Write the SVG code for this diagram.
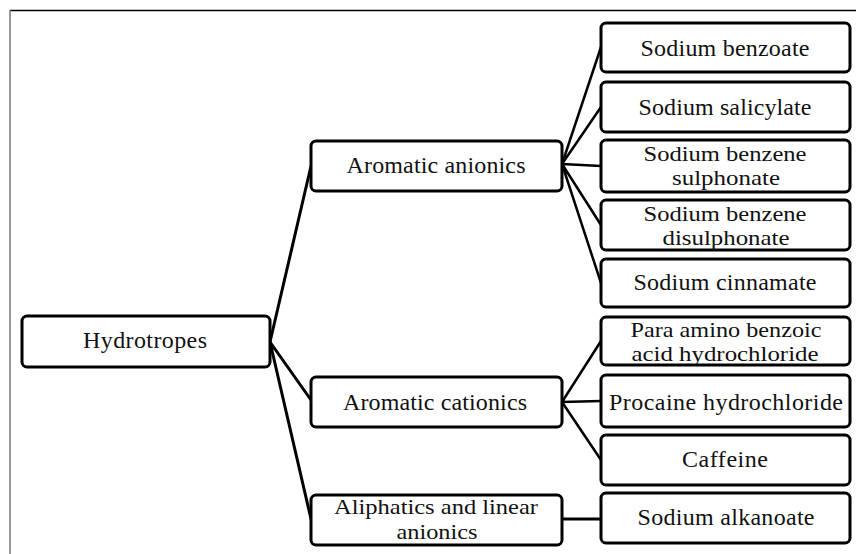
<svg xmlns="http://www.w3.org/2000/svg" width="856" height="554" viewBox="0 0 856 554">
<style>
.box{fill:#fff;stroke:#000;stroke-width:3}
.t{font-family:"Liberation Serif","Times New Roman",Times,serif;font-size:24px;fill:#111;text-anchor:middle}
.t2{font-size:22px}
.c{stroke:#000;fill:none;stroke-linecap:round}
.c3{stroke-width:3}
.c2{stroke-width:2.5}
</style>
<rect width="856" height="554" fill="#fff"/>
<line x1="10" y1="10.5" x2="856" y2="10.5" stroke="#000" stroke-width="1.5"/>
<line x1="10" y1="10" x2="10" y2="554" stroke="#777" stroke-width="1.5"/>
<g id="connectors">
<path class="c c3" d="M270 342 L311 166 M270 342 L311 400 M270 342 L311 519"/>
<path class="c c2" d="M562 164 L601 47 M562 164 L601 107 M562 164 L601 166 M562 164 L601 225 M562 164 L601 283"/>
<path class="c c2" d="M562 402 L601 341 M562 402 L601 401 M562 402 L601 460"/>
<path class="c c3" d="M562 519 L601 519"/>
</g>
<g id="hydrotropes"><rect class="box" x="22" y="316" width="248" height="51" rx="5"/><text class="t" x="145" y="348" textLength="124" lengthAdjust="spacing">Hydrotropes</text></g>
<g id="aromatic-anionics"><rect class="box" x="311" y="141" width="251" height="50" rx="5"/><text class="t" x="436" y="173" textLength="179" lengthAdjust="spacing">Aromatic anionics</text></g>
<g id="aromatic-cationics"><rect class="box" x="311" y="377" width="251" height="50" rx="5"/><text class="t" x="435" y="410" textLength="184" lengthAdjust="spacing">Aromatic cationics</text></g>
<g id="aliphatics"><rect class="box" x="311" y="495" width="251" height="50" rx="5"/><text class="t t2" x="436" y="514" textLength="204" lengthAdjust="spacingAndGlyphs">Aliphatics and linear</text><text class="t t2" x="437" y="539" textLength="81" lengthAdjust="spacingAndGlyphs">anionics</text></g>
<g id="sodium-benzoate"><rect class="box" x="601" y="23" width="249" height="49" rx="5"/><text class="t" x="725" y="56" textLength="169" lengthAdjust="spacing">Sodium benzoate</text></g>
<g id="sodium-salicylate"><rect class="box" x="601" y="82" width="249" height="50" rx="5"/><text class="t" x="725" y="115" textLength="173" lengthAdjust="spacing">Sodium salicylate</text></g>
<g id="sodium-benzene-sulphonate"><rect class="box" x="601" y="140" width="249" height="52" rx="5"/><text class="t t2" x="725" y="161" textLength="163" lengthAdjust="spacingAndGlyphs">Sodium benzene</text><text class="t t2" x="726" y="185" textLength="108" lengthAdjust="spacingAndGlyphs">sulphonate</text></g>
<g id="sodium-benzene-disulphonate"><rect class="box" x="601" y="200" width="249" height="50" rx="5"/><text class="t t2" x="725" y="221" textLength="163" lengthAdjust="spacingAndGlyphs">Sodium benzene</text><text class="t t2" x="726" y="245" textLength="127" lengthAdjust="spacingAndGlyphs">disulphonate</text></g>
<g id="sodium-cinnamate"><rect class="box" x="601" y="259" width="249" height="48" rx="5"/><text class="t" x="725" y="290" textLength="183" lengthAdjust="spacing">Sodium cinnamate</text></g>
<g id="para-amino"><rect class="box" x="601" y="317" width="249" height="48" rx="5"/><text class="t t2" x="726" y="337" textLength="191" lengthAdjust="spacingAndGlyphs">Para amino  benzoic</text><text class="t t2" x="725" y="361" textLength="187" lengthAdjust="spacingAndGlyphs">acid hydrochloride</text></g>
<g id="procaine"><rect class="box" x="601" y="375" width="249" height="52" rx="5"/><text class="t" x="726" y="410" textLength="234" lengthAdjust="spacing">Procaine hydrochloride</text></g>
<g id="caffeine"><rect class="box" x="601" y="435" width="249" height="50" rx="5"/><text class="t" x="725" y="467" textLength="86" lengthAdjust="spacing">Caffeine</text></g>
<g id="sodium-alkanoate"><rect class="box" x="601" y="493" width="249" height="50" rx="5"/><text class="t" x="726" y="525" textLength="177" lengthAdjust="spacing">Sodium alkanoate</text></g>
</svg>
